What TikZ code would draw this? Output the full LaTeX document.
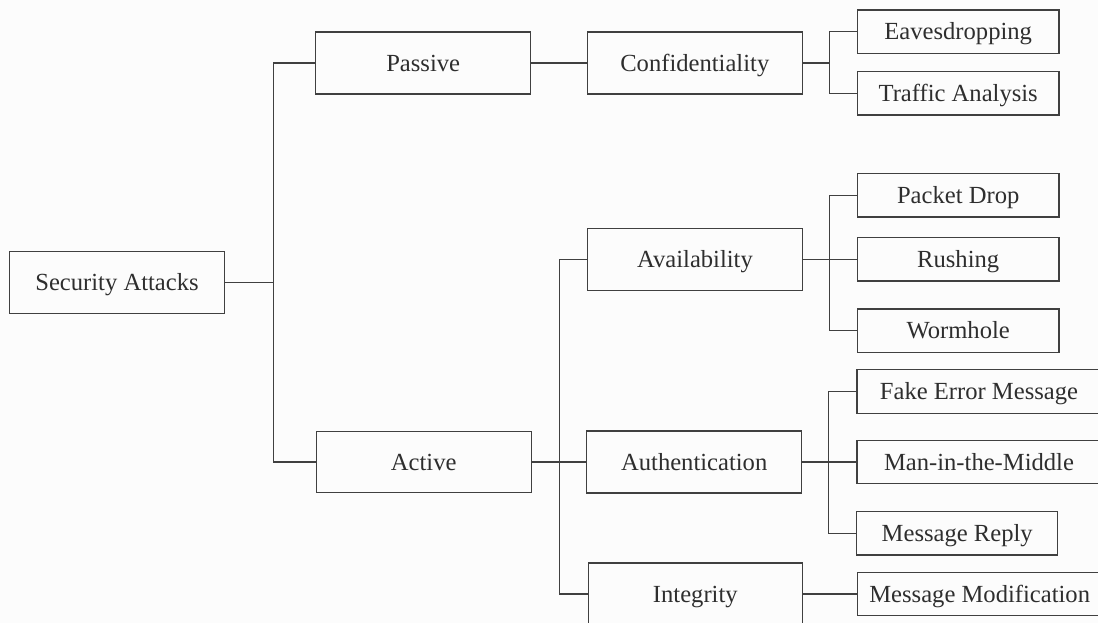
\documentclass[tikz,border=0pt]{standalone}
\usepackage{fontspec}
\setmainfont{Liberation Serif}
\begin{document}
\begin{tikzpicture}[x=1pt,y=-1pt,
  line width=1.2pt,
  every node/.style={font=\fontsize{24.6}{28}\selectfont, text=black!82,
    inner sep=0pt, text height=16.4pt, text depth=0pt},
  mainbox/.style={draw=black!75, minimum width=215pt, minimum height=62pt},
  leafbox/.style={draw=black!75, minimum width=201.5pt, minimum height=43.5pt},
  widebox/.style={draw=black!75, minimum width=244pt, minimum height=43.5pt},
  link/.style={draw=black!75, line width=1.2pt}]
\useasboundingbox (0,0) rectangle (1098,623);
\fill[white!99!black] (0,0) rectangle (1098,623);
\clip (0,0) rectangle (1098,623);

% first two levels
\node[mainbox, minimum width=214.6pt] (sa) at (117,282.7) {Security Attacks};
\node[mainbox] (passive) at (423.2,63) {Passive};
\node[mainbox, minimum height=61pt] (active) at (423.7,462) {Active};

% security services
\node[mainbox] (conf) at (694.8,63) {Confidentiality};
\node[mainbox] (avail) at (695,259.2) {Availability};
\node[mainbox] (auth) at (694.2,462) {Authentication};
\node[mainbox, minimum width=214pt] (integ) at (695.3,594) {Integrity};

% attacks
\node[leafbox] (eaves) at (958.2,31.7) {Eavesdropping};
\node[leafbox] (traffic) at (958.2,93.3) {Traffic Analysis};
\node[leafbox] (packet) at (958.2,195.3) {Packet Drop};
\node[leafbox] (rushing) at (958.2,259.2) {Rushing};
\node[leafbox] (wormhole) at (958.2,330.7) {Wormhole};
\node[widebox] (fake) at (979,391.5) {Fake Error Message};
\node[widebox] (mitm) at (979,462) {Man-in-the-Middle};
\node[leafbox, minimum width=201pt] (reply) at (957.2,533.3) {Message Reply};
\node[widebox] (modif) at (979.7,594) {Message Modification};

% bus points
\coordinate (t1) at (273.3,282.7);
\coordinate (t2) at (559.3,462);
\coordinate (t3) at (829.5,63);
\coordinate (t4) at (829.5,259.2);
\coordinate (t5) at (828.5,462);

% connectors
\draw[link] (sa.east) -- (t1);
\draw[link] (passive.west) -| (t1);
\draw[link] (active.west) -| (t1);

\draw[link] (passive.east) -- (conf.west);
\draw[link] (active.east) -- (auth.west);
\draw[link] (avail.west) -| (t2);
\draw[link] (integ.west) -| (t2);

\draw[link] (conf.east) -- (t3);
\draw[link] (eaves.west) -| (t3);
\draw[link] (traffic.west) -| (t3);

\draw[link] (avail.east) -- (rushing.west);
\draw[link] (packet.west) -| (t4);
\draw[link] (wormhole.west) -| (t4);

\draw[link] (auth.east) -- (mitm.west);
\draw[link] (fake.west) -| (t5);
\draw[link] (reply.west) -| (t5);

\draw[link] (integ.east) -- (modif.west);
\end{tikzpicture}
\end{document}
